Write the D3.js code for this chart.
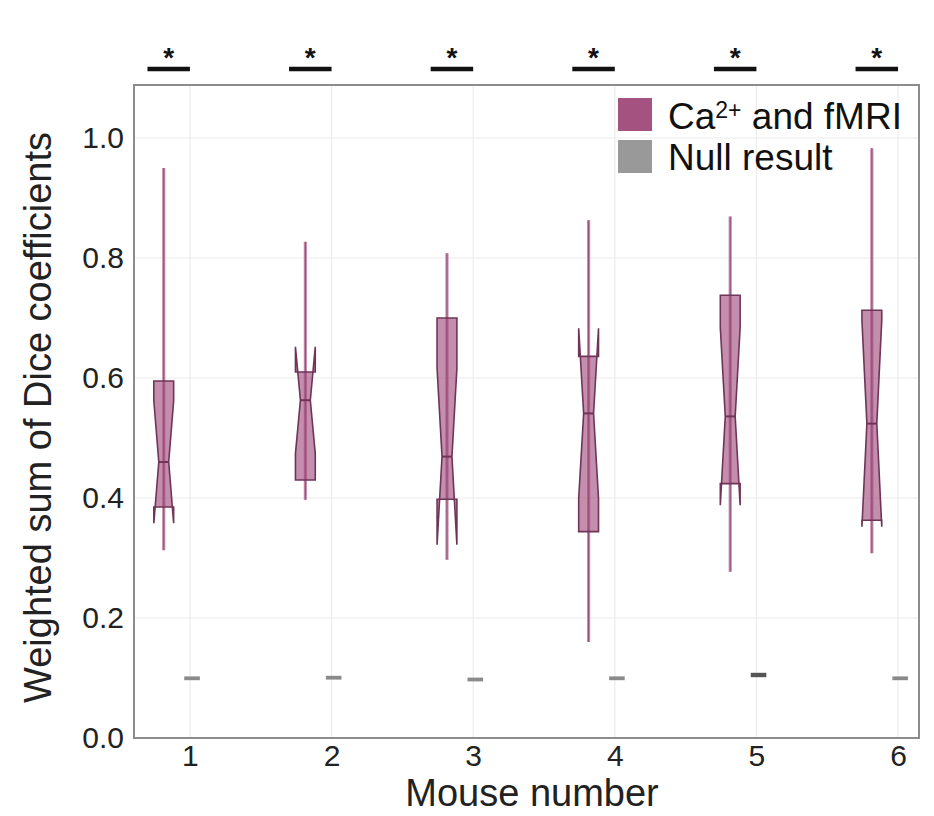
<!DOCTYPE html>
<html><head><meta charset="utf-8">
<script src="https://cdn.jsdelivr.net/npm/d3@7"></script>
<style>body{margin:0;background:#fff;} svg{display:block;font-family:"Liberation Sans",Arial,sans-serif;}</style>
</head><body><svg id="c" width="934" height="816"></svg>
<script>
const mice = [1, 2, 3, 4, 5, 6];
const caWhiskerLow  = [0.313, 0.397, 0.297, 0.160, 0.277, 0.308];
const caQ1          = [0.385, 0.430, 0.398, 0.344, 0.424, 0.363];
const caMedian      = [0.460, 0.563, 0.469, 0.541, 0.536, 0.524];
const caQ3          = [0.595, 0.610, 0.700, 0.636, 0.738, 0.713];
const caWhiskerHigh = [0.950, 0.827, 0.808, 0.863, 0.869, 0.983];
const caNotchLow    = [0.358, 0.474, 0.322, 0.399, 0.388, 0.352];
const caNotchHigh   = [0.562, 0.652, 0.616, 0.683, 0.684, 0.696];
const nullQ1        = [0.098, 0.099, 0.096, 0.098, 0.103, 0.098];
const nullQ3        = [0.101, 0.102, 0.099, 0.101, 0.107, 0.101];
const yTicks = [0.0, 0.2, 0.4, 0.6, 0.8, 1.0];
const legendLabels = ["Ca", "Null result"];

const svg = d3.select("#c");
const L = 134, R = 919, T = 85, B = 738;
const x = d3.scaleLinear().domain([0.605, 6.148]).range([L, R]);
const y = d3.scaleLinear().domain([0, 1]).range([B, 138]);
const caOff = -0.185, nullOff = 0.015, boxHalf = 0.07;
const FONT = "Liberation Sans, Arial, sans-serif";

// grid
const g = svg.append("g");
g.selectAll("line.gy").data(yTicks.slice(1)).join("line")
  .attr("x1", L).attr("x2", R).attr("y1", d => y(d)).attr("y2", d => y(d))
  .attr("stroke", "#ececec").attr("stroke-width", 1.2);
g.selectAll("line.gx").data(mice).join("line")
  .attr("x1", d => x(d)).attr("x2", d => x(d)).attr("y1", T).attr("y2", B)
  .attr("stroke", "#ececec").attr("stroke-width", 1.2);

// axes
const yAxis = d3.axisLeft(y).tickValues(yTicks).tickFormat(d3.format(".1f")).tickSize(0).tickPadding(10);
const ya = svg.append("g").attr("transform", `translate(${L},0)`).call(yAxis);
ya.select(".domain").remove();
ya.selectAll("text").attr("font-size", 30).attr("fill", "#222").attr("font-family", FONT);
const xAxis = d3.axisBottom(x).tickValues(mice).tickFormat(d3.format("d")).tickSize(0).tickPadding(7);
const xa = svg.append("g").attr("transform", `translate(0,${B})`).call(xAxis);
xa.select(".domain").remove();
xa.selectAll("text").attr("font-size", 30).attr("fill", "#222").attr("font-family", FONT);

// ca boxes
const caData = mice.map((m, i) => ({m, lo: caWhiskerLow[i], q1: caQ1[i], med: caMedian[i], q3: caQ3[i], hi: caWhiskerHigh[i], nl: caNotchLow[i], nh: caNotchHigh[i]}));
const bx = svg.append("g");
caData.forEach(d => {
  const cx = x(d.m + caOff);
  const w = x(d.m + caOff + boxHalf) - cx;
  bx.append("line").attr("x1", cx).attr("x2", cx).attr("y1", y(d.hi)).attr("y2", y(d.lo))
    .attr("stroke", "#c48cab").attr("stroke-width", 3.2);
  bx.append("line").attr("x1", cx).attr("x2", cx).attr("y1", y(d.hi)).attr("y2", y(d.lo))
    .attr("stroke", "#8e4f75").attr("stroke-width", 1);
  const pts = [
    [cx - w, y(d.q3)], [cx - w, y(d.nh)], [cx - w / 2, y(d.med)], [cx - w, y(d.nl)], [cx - w, y(d.q1)],
    [cx + w, y(d.q1)], [cx + w, y(d.nl)], [cx + w / 2, y(d.med)], [cx + w, y(d.nh)], [cx + w, y(d.q3)]
  ];
  bx.append("path").attr("d", d3.line()(pts) + "Z")
    .attr("fill", "rgba(160,72,122,0.62)").attr("stroke", "#6f3558").attr("stroke-width", 1.6)
    .attr("stroke-linejoin", "miter");
  bx.append("line").attr("x1", cx - w / 2).attr("x2", cx + w / 2).attr("y1", y(d.med)).attr("y2", y(d.med))
    .attr("stroke", "#6f3558").attr("stroke-width", 2);
});

// null boxes
mice.forEach((m, i) => {
  const cx = x(m + nullOff);
  const w = x(m + nullOff + 0.055) - cx;
  bx.append("rect").attr("x", cx - w).attr("width", 2 * w)
    .attr("y", y(nullQ3[i]) - 1).attr("height", Math.max(2.5, y(nullQ1[i]) - y(nullQ3[i]) + 2))
    .attr("fill", i === 4 ? "#555" : "#8a8a8a");
});

// frame
svg.append("rect").attr("x", L).attr("y", T).attr("width", R - L).attr("height", B - T)
  .attr("fill", "none").attr("stroke", "#8c8c8c").attr("stroke-width", 2);

// significance
const sig = svg.append("g");
mice.forEach(m => {
  sig.append("line").attr("x1", x(m - 0.3)).attr("x2", x(m)).attr("y1", 69).attr("y2", 69)
    .attr("stroke", "#111").attr("stroke-width", 4.5);
  sig.append("text").attr("x", x(m - 0.15)).attr("y", 67).attr("text-anchor", "middle")
    .attr("font-size", 28).attr("font-weight", "bold").attr("fill", "#111").text("*");
});

// legend
const lg = svg.append("g");
lg.append("rect").attr("x", 618).attr("y", 98).attr("width", 34).attr("height", 33).attr("fill", "#a4527f");
lg.append("rect").attr("x", 618).attr("y", 140).attr("width", 34).attr("height", 33).attr("fill", "#999");
const t1 = lg.append("text").attr("x", 668).attr("y", 129).attr("font-size", 37).attr("fill", "#111");
t1.append("tspan").text(legendLabels[0]);
t1.append("tspan").attr("font-size", 23).attr("dy", -11).text("2+");
t1.append("tspan").attr("dy", 11).text(" and fMRI");
lg.append("text").attr("x", 668).attr("y", 170).attr("font-size", 37).attr("fill", "#111").text(legendLabels[1]);

// titles
svg.append("text").attr("x", 532).attr("y", 806).attr("text-anchor", "middle").attr("font-size", 38).attr("fill", "#222").text("Mouse number");
svg.append("text").attr("transform", `translate(51,${(T + B) / 2 + 6}) rotate(-90)`).attr("text-anchor", "middle")
  .attr("font-size", 38).attr("fill", "#222").text("Weighted sum of Dice coefficients");
</script></body></html>
